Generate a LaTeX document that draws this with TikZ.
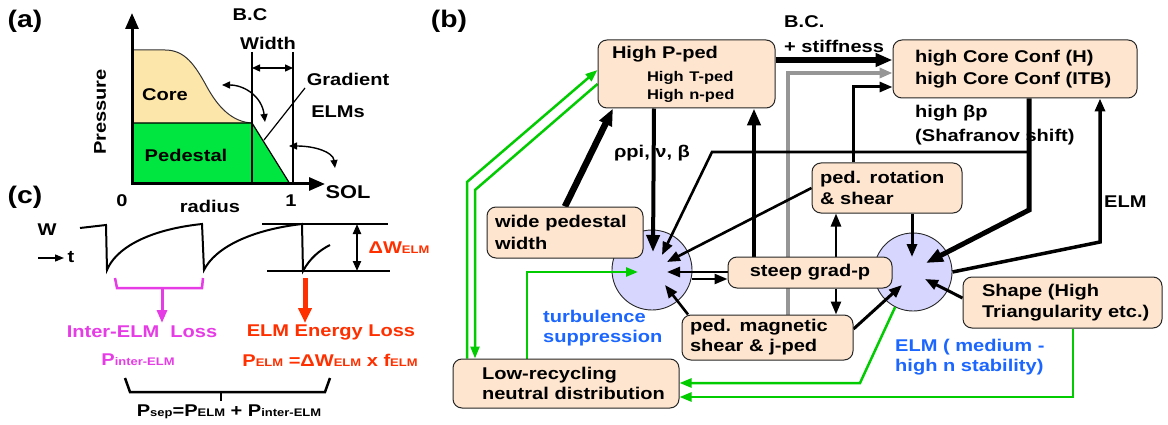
\documentclass[tikz,border=0pt]{standalone}
\usepackage{fontspec}
\setmainfont{Liberation Sans}[FakeStretch=1.18]
\usetikzlibrary{arrows.meta,calc}

\definecolor{boxfill}{RGB}{253,229,207}
\definecolor{corefill}{RGB}{252,230,170}
\definecolor{pedgreen}{RGB}{0,230,64}
\definecolor{linegreen}{RGB}{0,204,0}
\definecolor{bubblefill}{RGB}{214,214,255}
\definecolor{elmred}{RGB}{255,48,0}
\definecolor{intermag}{RGB}{230,60,230}
\definecolor{noteblue}{RGB}{26,102,255}
\definecolor{paleline}{RGB}{150,150,150}

\newcommand{\smallpart}[1]{{\fontsize{11}{12}\selectfont #1}}
\newcommand{\pedline}[1]{\hspace*{35pt}{\fontsize{14}{16}\selectfont #1}}

\pgfdeclarelayer{bg}
\pgfdeclarelayer{mid}
\pgfsetlayers{bg,mid,main}

\begin{document}
\begin{tikzpicture}[x=1pt,y=-1pt,
  every node/.style={inner sep=0pt},
  font=\bfseries\fontsize{17}{21.5}\selectfont,
  box/.style={draw=black!85, line width=1pt, fill=boxfill, rounded corners=9pt, align=left},
  bubble/.style={circle, draw=black!85, line width=0.9pt, fill=bubblefill},
  arr/.style={-{Triangle[length=13pt,width=10pt]}, line width=2.8pt},
  bigarr/.style={-{Triangle[length=17pt,width=13pt]}},
  garr/.style={-{Triangle[length=12pt,width=9pt]}, draw=linegreen, line width=2.5pt},
  thinarr/.style={{Triangle[length=8pt,width=7pt]}-{Triangle[length=8pt,width=7pt]}, line width=1.4pt},
  axis/.style={-{Triangle[length=16pt,width=13pt]}, line width=3pt}
]
\useasboundingbox (0,0) rectangle (1168,425);
\begin{pgfonlayer}{bg}
\fill[white] (0,0) rectangle (1168,425);
\end{pgfonlayer}

% ---------------- (a) pressure profile ----------------
\node (la) at (25,21) {\fontsize{24}{26}\selectfont (a)};
\fill[corefill] (132,50) -- (165,50) .. controls (185,50) and (195,65) .. (207,87)
  .. controls (218,107) and (232,122) .. (252,123) -- (132,123) -- cycle;
\draw[line width=1pt, black!80] (132,50) -- (165,50) .. controls (185,50) and (195,65) .. (207,87)
  .. controls (218,107) and (232,122) .. (252,123);
\filldraw[fill=pedgreen, draw=black, line width=1.2pt] (132,123) -- (252,123) -- (290,184) -- (132,184) -- cycle;
\draw[line width=1.2pt] (252,52) -- (252,184);
\draw[line width=1.2pt] (293,52) -- (293,184);
\draw[thinarr] (252,68) -- (293,68);
\draw[axis] (132,185) -- (132,13);
\draw[axis] (131,184) -- (325,184);
\draw[thinarr] (222,85) .. controls (245,85) and (262,97) .. (265,122);
\draw[thinarr] (289,146) .. controls (315,146) and (333,152) .. (335,168);
\draw[line width=1.2pt] (305,88) -- (264,140);
\node (tcore) at (165,95) {Core};
\node (tped) at (186,155) {Pedestal};
\node (tbc) at (250,15) {B.C};
\node (twidth) at (268,43) {Width};
\node (tgrad) at (348,79) {Gradient};
\node (telms) at (338,112) {ELMs};
\node (tsol) at (348,192) {\fontsize{18.5}{20}\selectfont SOL};
\node[rotate=90] (tpress) at (100,112) {Pressure};
\node (tzero) at (122,201) {0};
\node (tone) at (291,201) {1};
\node (trad) at (210,206) {radius};

% ---------------- (c) stored energy vs time ----------------
\node (lc) at (25,197) {\fontsize{24}{26}\selectfont (c)};
\node (tw) at (47,230) {W};
\node (tt) at (71,257) {t};
\draw[-{Triangle[length=9pt,width=7pt]}, line width=1.4pt] (38,258) -- (64,258);
\draw[line width=2pt] (80,228) -- (106,225) -- (107,270)
  .. controls (115,250) and (145,230) .. (202,224) -- (204,270)
  .. controls (215,248) and (250,230) .. (302,224) -- (303,271)
  .. controls (310,258) and (320,250) .. (330,245);
\draw[line width=1.4pt] (262,224) -- (388,224);
\draw[line width=1.4pt] (267,271) -- (390,271);
\draw[{Triangle[length=10pt,width=8pt]}-{Triangle[length=10pt,width=8pt]}, line width=2.2pt] (357,224) -- (357,271);
\node[text=elmred] (tdw) at (399,248) {ΔW\smallpart{ELM}};
\draw[intermag, line width=2.5pt] (115,278) -- (117,288) -- (202,288) -- (203,278);
\draw[intermag, -{Triangle[length=13pt,width=10pt]}, line width=3pt] (162,288) -- (162,323);
\draw[elmred, -{Triangle[length=15pt,width=13pt]}, line width=5pt] (305,278) -- (305,323);
\node[text=intermag] (tinter) at (142,332) {Inter-ELM\ \ Loss};
\node[text=intermag] (tpinter) at (138,360) {P\smallpart{inter-ELM}};
\node[text=elmred] (telmloss) at (331,332) {ELM Energy Loss};
\node[text=elmred] (tpelm) at (330,360) {P\smallpart{ELM} =ΔW\smallpart{ELM} x f\smallpart{ELM}};
\draw[line width=2.5pt] (125,378) -- (130,392) -- (325,392) -- (330,378);
\draw[line width=2.5pt] (221,392) -- (221,401);
\node (tpsep) at (229,412) {P\smallpart{sep}=P\smallpart{ELM} + P\smallpart{inter-ELM}};

% ---------------- (b) causal network ----------------
\node (lb) at (449,21) {\fontsize{24}{26}\selectfont (b)};

\begin{pgfonlayer}{bg}
\node[bubble, minimum size=80] (turb) at (652,270) {};
\node[bubble, minimum size=78] (elm) at (913,272) {};
\end{pgfonlayer}

\node[box, minimum width=177, minimum height=68, text width=149] (pped) at (686.5,74)
  {High P-ped\\[1.5pt]\pedline{High T-ped}\\[-3.5pt]\pedline{High n-ped}};
\node[box, minimum width=244, minimum height=58, text width=200] (core) at (1015,69)
  {\mbox{high Core Conf (H)}\\[1pt]\mbox{high Core Conf (ITB)}};
\node[box, minimum width=150, minimum height=50, text width=134] (rot) at (887,188)
  {\mbox{ped. rotation}\\\& shear};
\node[box, minimum width=156, minimum height=51, text width=140] (wide) at (565,232.5)
  {\mbox{wide pedestal}\\width};
\node[box, minimum width=164, minimum height=31, text width=164, align=center] (steep) at (810,272.5)
  {steep grad-p};
\node[box, minimum width=171, minimum height=45, text width=155] (mag) at (767.5,337.5)
  {\mbox{ped. magnetic}\\[-1.5pt]\mbox{shear \& j-ped}};
\node[box, minimum width=226, minimum height=49, text width=168] (lowrec) at (566,383.5)
  {\mbox{Low-recycling}\\[-1.5pt]\mbox{neutral distribution}};
\node[box, minimum width=199, minimum height=51, text width=161] (shape) at (1062.5,302.5)
  {\mbox{Shape (High}\\\mbox{Triangularity etc.)}};

\node[anchor=west] (tbcs) at (784,22) {B.C.};
\node[anchor=west] (tstiff) at (784,46) {+ stiffness};
\node (trho) at (652,153) {ρpi, ν, β};
\node[anchor=west] (tbeta) at (915,113) {high βp};
\node[anchor=west] (tshaf) at (915,137) {(Shafranov shift)};
\node[anchor=west] (telmlab) at (1104,202) {ELM};
\node[anchor=west, align=left, text=noteblue] (tturb) at (543,328.5) {turbulence\\[-1.5pt]suppression};
\node[anchor=west, align=left, text=noteblue] (telmstab) at (895,357.5) {ELM ( medium -\\[-1.5pt]high n stability)};

\coordinate (shaf) at (1029,152);

\begin{pgfonlayer}{mid}
% links between the boxes
\draw[arr, bigarr, line width=5.5pt] (pped.east |- 0,60) -- (core.west |- 0,60);
\draw[arr, draw=paleline, line width=3.5pt] (788,0 |- mag.north) -- (788,73) -- (core.west |- 0,73);
\draw[arr, line width=3pt] (853,0 |- rot.north) -- (853,87) -- (core.west |- 0,87);
\draw[arr, bigarr, line width=6.5pt] (565,0 |- wide.north) -- (613,0 |- pped.south);
\draw[arr, bigarr, line width=4pt] (654,0 |- pped.south) -- ($(turb)+(1,-18)$);
\draw[arr, bigarr, line width=4.5pt] (754,0 |- steep.north) -- (754,0 |- pped.south);
\draw[arr, line width=2.6pt] (shaf) -- (712,152) -- ($(turb)+(10,-15)$);
\draw[arr, line width=2.6pt] (rot.west |- 0,188) -- ($(turb)+(15,-8)$);
\draw[arr, line width=2.6pt] (steep.west |- 0,272) -- ($(turb)+(15,2)$);
\draw[arr, line width=2.6pt] (turb.east |- 0,279) -- (steep.west |- 0,279);
\draw[arr, line width=2.6pt] (688,0 |- mag.north) -- ($(turb)+(13,15)$);
\draw[arr, line width=2.6pt] (836,0 |- steep.north) -- (836,0 |- rot.south);
\draw[arr, line width=2.6pt] (836,0 |- steep.south) -- (836,0 |- mag.north);
\draw[arr, line width=3pt] (912,0 |- rot.south) -- ($(elm)+(-1,-15)$);
\draw[arr, bigarr, line width=5pt] (1029,0 |- core.south) -- (1029,210) -- ($(elm)+(13,-9)$);
\draw[arr, line width=3pt] (shape.west |- 0,298) -- ($(elm)+(12,7)$);
\draw[arr, line width=3pt] (mag.east |- 0,329) -- ($(elm)+(-11,13)$);
\draw[arr, line width=3.5pt] (elm.east) -- (1100,242) -- (1100,0 |- core.south);
% recycling feedback loops
\draw[garr] (527,0 |- lowrec.north) -- (527,272) -- ($(turb)+(-14,2)$);
\draw[garr] (467,0 |- lowrec.north) -- (467,182) -- (pped.west |- 0,70);
\draw[garr] (pped.west |- 0,84) -- (475,190) -- (475,0 |- lowrec.north);
\draw[garr] (elm.-117) -- (860,383) -- (lowrec.east |- 0,383);
\draw[garr] (1073,0 |- shape.south) -- (1073,397) -- (lowrec.east |- 0,397);
\end{pgfonlayer}
\end{tikzpicture}
\end{document}
